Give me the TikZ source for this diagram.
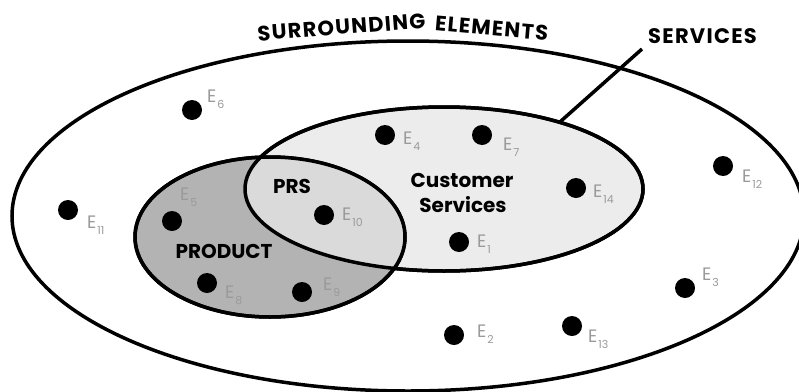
\documentclass[tikz,border=0pt]{standalone}
\usepackage{fontspec}
\setmainfont{Poppins}
\newfontfamily\headfont{Poppins}[LetterSpace=6]
\usetikzlibrary{shapes.geometric}
\definecolor{prodgray}{HTML}{B3B3B3}
\definecolor{servgray}{HTML}{ECECEC}
\definecolor{prsgray}{HTML}{DADADA}
\definecolor{labgray}{HTML}{9A9A9A}
\tikzset{
  region/.style={ellipse, draw=black, line width=3.5pt, inner sep=0pt, outer sep=0pt},
  edot/.style={circle, fill=black, inner sep=0pt, minimum size=20pt},
  elab/.style={text=labgray, font=\fontsize{18}{18}\selectfont, inner sep=0pt, anchor=base west},
  title/.style={font=\bfseries\fontsize{20}{20}\selectfont, inner sep=0pt, anchor=base},
  heading/.style={font=\headfont\bfseries\fontsize{21}{21}\selectfont, inner sep=0pt, anchor=base},
  outline/.style={line width=3.5pt},
}
\newcommand{\elem}[1]{E\kern1pt\raisebox{-6pt}{\fontsize{11}{11}\selectfont #1}}

\begin{document}
\begin{tikzpicture}[x=1pt,y=-1pt]
\useasboundingbox (0,0) rectangle (799,391);
\fill[white] (0,0) rectangle (799,391);

% the three regions
\node[region, minimum width=792pt, minimum height=350pt] (env) at (408,216) {};
\node[region, fill=servgray, minimum width=398pt, minimum height=164pt] (cs) at (444,189) {};
\node[region, fill=prodgray, minimum width=270pt, minimum height=160pt] (prod) at (270,237) {};

% shared part of product and customer services
\begin{scope}
  \clip (prod.center) ellipse [x radius=135pt, y radius=80pt];
  \fill[prsgray] (cs.center) ellipse [x radius=199pt, y radius=82pt];
\end{scope}
\draw[outline] (cs.center) ellipse [x radius=199pt, y radius=82pt];
\draw[outline] (prod.center) ellipse [x radius=135pt, y radius=80pt];

% headings, following the arch of the outer ellipse
\node[heading, rotate=4.5] (surr) at (342,34.5) {SURROUNDING};
\node[heading, rotate=-5] (elem) at (491,35.5) {ELEMENTS};
\node[heading, anchor=base west] (svc) at (648,43) {SERVICES};
\coordinate (svcend) at (642,49);
\draw[outline] (cs.30) -- (svcend);

\node[title] (prs) at (292,193) {PRS};
\node[title] (prodlab) at (224,258) {PRODUCT};
\node[title] (cust) at (462,187) {Customer};
\node[title] (serv) at (463,212) {Services};

% elements
\foreach \n/\dx/\dy/\lx/\ly in {
  6/192/110/207/102, 4/385/135/403/144, 7/482/135/503/150,
  12/723/166/742/182, 14/576/188/593/197, 11/68/210/87/228,
  5/172/221/180/200, 10/324/215/342/220, 8/207/283/225/298,
  9/302/292/323/290, 1/459/242/477/247, 3/685/288/702/280,
  2/454/335/477/337, 13/572/326/588/342}{
  \node[edot] (e\n) at (\dx,\dy) {};
  \node[elab] (l\n) at (\lx,\ly) {\elem{\n}};
}
\end{tikzpicture}
\end{document}
